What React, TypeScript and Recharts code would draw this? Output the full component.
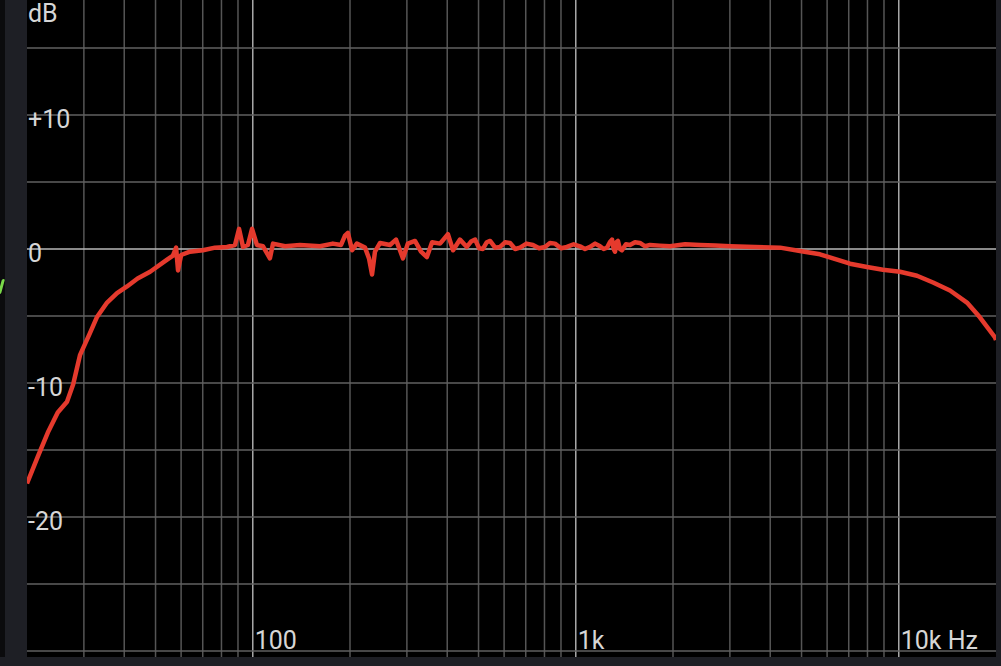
import { LineChart, Line, XAxis, YAxis, ReferenceLine, CartesianGrid } from 'recharts'

const freqs = [
  20, 21.6, 23.2, 24.9, 26.6, 27.8, 29.2, 31.3, 32.9, 35.4, 38, 40.8, 44, 48.1, 54.3, 56.6, 57.9, 58.7, 60,
  63.9, 70.1, 76.4, 83.2, 88.1, 90.7, 93.3, 96.6, 99.5, 103, 107.6, 113, 115.5, 125.9, 140, 161.5,
  177, 187.6, 193, 197, 203, 210, 222.6, 229, 234, 239, 247.8, 266, 277.6, 291.8, 302, 317.8, 331.8,
  346, 359, 380, 402, 417, 438, 460, 474, 488, 502, 516, 530, 543, 563, 583, 604, 626, 649, 672, 704,
  737, 770, 803, 832, 862, 900, 939, 985, 1030, 1068, 1107, 1148, 1189, 1220, 1250, 1275, 1295, 1310,
  1323, 1337, 1351, 1370, 1390, 1430, 1472, 1525, 1580, 1640, 1698, 1820, 1958, 2180, 2424, 2700,
  3004, 3590, 4290, 4946, 5702, 6258, 7064, 7974, 8934, 10090, 11390, 12770, 14410, 16260, 17830,
  19860, 20000,
]
const gains = [
  -17.5, -15.5, -13.7, -12.2, -11.4, -10.1, -7.9, -6.3, -5.1, -4.0, -3.3, -2.8, -2.2, -1.7, -0.8, -0.5, 0.1, -1.6, -0.45,
  -0.2, -0.1, 0.1, 0.15, 0.3, 1.5, 0.15, 0.3, 1.5, 0.3, 0.2, -0.7, 0.4, 0.2, 0.3, 0.2,
  0.4, 0.3, 1.0, 1.2, -0.1, 0.4, 0.1, -0.7, -1.9, -0.2, 0.45, 0.3, 0.7, -0.7, 0.4, 0.6, -0.2,
  -0.6, 0.5, 0.4, 1.1, -0.1, 0.7, 0.15, 0.55, 0.7, 0.05, 0.0, 0.5, 0.6, 0.1, 0.15, 0.5, 0.45, 0.0, 0.1, 0.4,
  0.3, 0.05, 0.15, 0.45, 0.4, 0.05, 0.15, 0.35, 0.2, 0.0, 0.15, 0.4, 0.2, 0.0, 0.1, 0.5, 0.7, 0.0,
  -0.2, 0.5, 0.6, 0.0, -0.1, 0.35, 0.3, 0.5, 0.45, 0.2, 0.3, 0.25, 0.2, 0.35, 0.3, 0.25,
  0.2, 0.15, 0.1, -0.15, -0.4, -0.7, -1.1, -1.35, -1.55, -1.7, -2.0, -2.5, -3.1, -4.0, -5.1,
  -6.6, -6.8,
]

const gridFreqs = [
  30, 40, 50, 60, 70, 80, 90, 100, 200, 300, 400, 500, 600, 700, 800, 900, 1000,
  2000, 3000, 4000, 5000, 6000, 7000, 8000, 9000, 10000,
]
const decadeFreqs = [100, 1000, 10000]
const xTickLabels = ['100', '1k', '10k Hz']

const gridDb = [-30, -25, -20, -15, -10, -5, 0, 5, 10, 15]
const yTickValues = [10, 0, -10, -20]
const yTickLabels = ['+10', '0', '-10', '-20']

const TEXT = '#d6d6d6'
const FONT = 'Roboto, sans-serif'

const data = freqs.map((f, i) => ({ f, db: gains[i] }))

function YLabel({ viewBox, text }: any) {
  return (
    <text x={viewBox.x + 1} y={viewBox.y + 13} fill={TEXT} fontSize={25} fontFamily={FONT}>
      {text}
    </text>
  )
}

function XLabel({ viewBox, text }: any) {
  return (
    <text x={viewBox.x + 2} y={viewBox.y + viewBox.height - 8} fill={TEXT} fontSize={25} fontFamily={FONT}>
      {text}
    </text>
  )
}

function UnitLabel({ viewBox }: any) {
  return (
    <text x={viewBox.x + 1} y={viewBox.y + 22} fill={TEXT} fontSize={25} fontFamily={FONT}>
      dB
    </text>
  )
}

export default function App() {
  return (
    <div style={{ position: 'absolute', left: 0, top: 0, width: 1001, height: 666, background: '#1e1f25', overflow: 'hidden' }}>
      <div style={{ position: 'absolute', left: 0, top: 0, width: 5, height: 657, background: '#0b0b0d' }} />
      <div
        style={{
          position: 'absolute', left: 0, top: 279, width: 3, height: 15,
          background: '#7ad94a', borderRadius: 2, transform: 'skewX(-15deg)',
        }}
      />
      <LineChart width={1001} height={666} data={data} margin={{ top: 0, right: 5, left: 27, bottom: 9 }}>
        <CartesianGrid horizontal={false} vertical={false} fill="#000" fillOpacity={1} />
        <XAxis dataKey="f" type="number" scale="log" domain={[20, 20000]} allowDataOverflow hide />
        <YAxis type="number" domain={[-30.45, 18.58]} allowDataOverflow hide />
        {gridFreqs.map((f) => {
          const d = decadeFreqs.indexOf(f)
          return (
            <ReferenceLine
              key={'v' + f}
              x={f}
              stroke={d >= 0 ? '#a9a9a9' : '#555'}
              strokeWidth={1.5}
              label={d >= 0 ? <XLabel text={xTickLabels[d]} /> : undefined}
            />
          )
        })}
        {gridDb.map((v) => {
          const t = yTickValues.indexOf(v)
          return (
            <ReferenceLine
              key={'h' + v}
              y={v}
              stroke={v === 0 ? '#b8b8b8' : '#616161'}
              strokeWidth={1.5}
              label={t >= 0 ? <YLabel text={yTickLabels[t]} /> : undefined}
            />
          )
        })}
        <ReferenceLine x={20} stroke="none" label={<UnitLabel />} />
        <Line
          dataKey="db"
          type="linear"
          stroke="#e53a2d"
          strokeWidth={4.5}
          strokeLinejoin="round"
          dot={false}
          activeDot={false}
          isAnimationActive={false}
        />
      </LineChart>
    </div>
  )
}
